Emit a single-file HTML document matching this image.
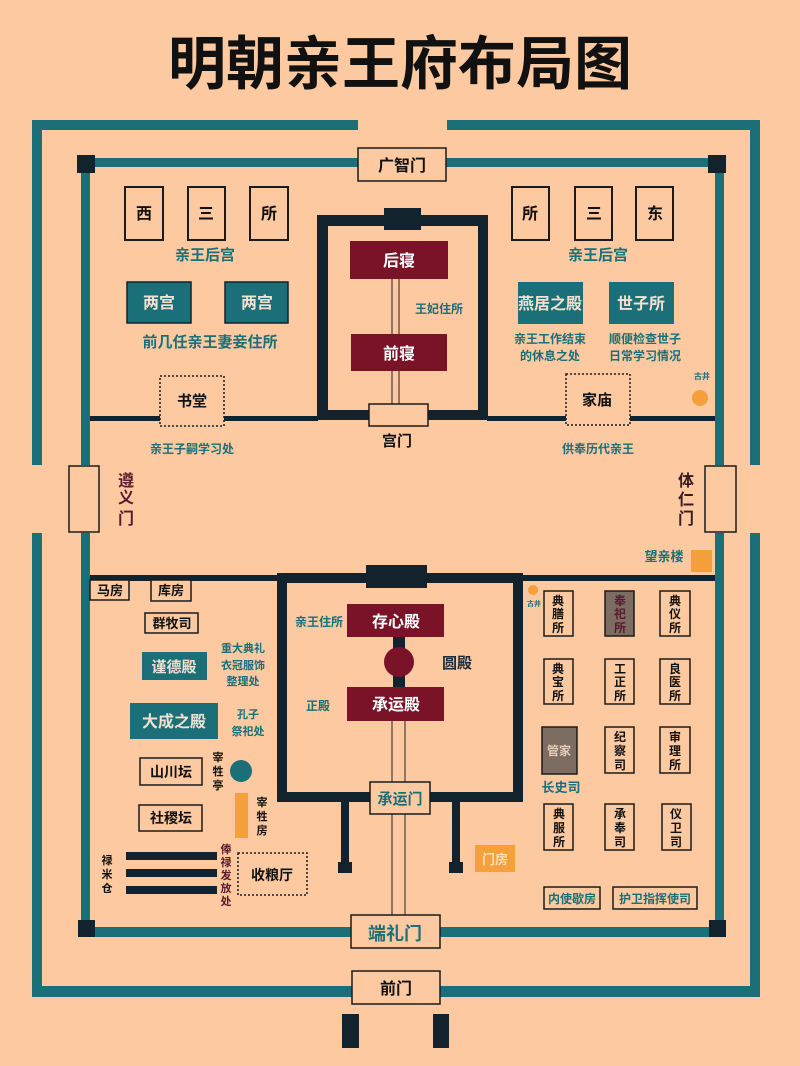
<!DOCTYPE html>
<html><head><meta charset="utf-8"><style>
html,body{margin:0;padding:0;background:#fcc9a0;}
svg{display:block;}
text{font-family:"Liberation Sans","Noto Sans CJK SC","WenQuanYi Zen Hei",sans-serif;font-weight:bold;}
</style></head><body>
<svg width="800" height="1066" viewBox="0 0 800 1066" xmlns="http://www.w3.org/2000/svg">
<rect width="800" height="1066" fill="#fcc9a0"/>
<text x="400" y="84" font-size="58" text-anchor="middle" fill="#111">明朝亲王府布局图</text>

<!-- outer wall -->
<g fill="#1a6f78">
<rect x="32" y="120" width="326" height="10"/>
<rect x="447" y="120" width="313" height="10"/>
<rect x="32" y="120" width="10" height="345"/>
<rect x="32" y="533" width="10" height="464"/>
<rect x="750" y="120" width="10" height="345"/>
<rect x="750" y="533" width="10" height="464"/>
<rect x="32" y="986" width="728" height="11"/>
<!-- inner wall -->
<rect x="86" y="158" width="272" height="9"/>
<rect x="446" y="158" width="268" height="9"/>
<rect x="81" y="158" width="9" height="307"/>
<rect x="81" y="533" width="9" height="404"/>
<rect x="715" y="158" width="9" height="307"/>
<rect x="715" y="533" width="9" height="404"/>
<rect x="81" y="927" width="643" height="10"/>
</g>
<g fill="#13232d">
<rect x="77" y="155" width="18" height="18"/>
<rect x="708" y="155" width="18" height="18"/>
<rect x="78" y="920" width="17" height="17"/>
<rect x="709" y="920" width="17" height="17"/>
</g>

<g fill="#fcc9a0" stroke="#1b1b1b" stroke-width="1.5">
<rect x="358" y="148" width="88" height="33"/>
<rect x="69" y="466" width="30" height="66"/>
<rect x="705" y="466" width="31" height="66"/>
</g>
<text x="402" y="171" font-size="16" text-anchor="middle" fill="#111">广智门</text>
<g font-size="16" fill="#5a1a2e" text-anchor="middle">
<text x="126" y="486">遵</text><text x="126" y="503">义</text><text x="126" y="524">门</text>
</g>
<g font-size="16" fill="#3a1a24" text-anchor="middle">
<text x="686" y="486">体</text><text x="686" y="505">仁</text><text x="686" y="524">门</text>
</g>

<!-- upper compound -->
<g fill="#13232d">
<rect x="90" y="416" width="228" height="5"/>
<rect x="487" y="416" width="228" height="5"/>
<rect x="317" y="215" width="11" height="205"/>
<rect x="478" y="215" width="10" height="205"/>
<rect x="317" y="215" width="171" height="11"/>
<rect x="317" y="410" width="171" height="10"/>
<rect x="384" y="208" width="37" height="22"/>
</g>
<line x1="392" y1="279" x2="392" y2="405" stroke="#6b5a50" stroke-width="1.5"/>
<line x1="399" y1="279" x2="399" y2="405" stroke="#6b5a50" stroke-width="1.5"/>
<rect x="350" y="241" width="98" height="38" fill="#7a1228"/>
<rect x="351" y="334" width="96" height="37" fill="#7a1228"/>
<text x="399" y="266" font-size="16" text-anchor="middle" fill="#fff">后寝</text>
<text x="399" y="359" font-size="16" text-anchor="middle" fill="#fff">前寝</text>
<text x="439" y="313" font-size="12" text-anchor="middle" fill="#1a6f78">王妃住所</text>
<rect x="369" y="404" width="59" height="22" fill="#fcc9a0" stroke="#1b1b1b" stroke-width="1.5"/>
<text x="397" y="446" font-size="15" text-anchor="middle" fill="#111">宫门</text>

<g fill="#fcc9a0" stroke="#1b1b1b" stroke-width="2">
<rect x="125" y="187" width="38" height="53"/><rect x="188" y="187" width="37" height="53"/><rect x="250" y="187" width="38" height="53"/>
<rect x="512" y="187" width="37" height="53"/><rect x="575" y="187" width="37" height="53"/><rect x="636" y="187" width="37" height="53"/>
</g>
<g font-size="16" text-anchor="middle" fill="#111">
<text x="144" y="219">西</text><text x="206" y="219">三</text><text x="269" y="219">所</text>
<text x="530" y="219">所</text><text x="594" y="219">三</text><text x="655" y="219">东</text>
</g>
<g font-size="15" text-anchor="middle" fill="#1a6f78">
<text x="205" y="260">亲王后宫</text><text x="598" y="260">亲王后宫</text>
<text x="210" y="347">前几任亲王妻妾住所</text>
</g>
<g fill="#1a6f78" stroke="#13232d" stroke-width="1.5">
<rect x="127" y="282" width="64" height="41"/><rect x="225" y="282" width="63" height="41"/>
</g>
<rect x="518" y="282" width="65" height="42" fill="#1a6f78"/><rect x="609" y="282" width="65" height="42" fill="#1a6f78"/>
<g font-size="16" text-anchor="middle" fill="#f3e0d0">
<text x="159" y="308">两宫</text><text x="257" y="308">两宫</text>
<text x="550" y="309">燕居之殿</text><text x="641" y="309">世子所</text>
</g>
<g font-size="12" text-anchor="middle" fill="#1a6f78">
<text x="550" y="343">亲王工作结束</text><text x="550" y="360">的休息之处</text>
<text x="645" y="343">顺便检查世子</text><text x="645" y="360">日常学习情况</text>
<text x="192" y="453">亲王子嗣学习处</text><text x="598" y="453">供奉历代亲王</text>
</g>
<text x="702" y="379" font-size="8" text-anchor="middle" fill="#1a6f78">古井</text>
<circle cx="700" cy="398" r="8" fill="#f5a03a"/>

<g fill="#fcc9a0" stroke="#1b1b1b" stroke-width="1.5" stroke-dasharray="2,2">
<rect x="160" y="376" width="64" height="50"/><rect x="566" y="374" width="64" height="51"/>
<rect x="238" y="853" width="69" height="42"/>
</g>
<text x="192" y="406" font-size="15" text-anchor="middle" fill="#111">书堂</text>
<text x="597" y="405" font-size="15" text-anchor="middle" fill="#111">家庙</text>

<!-- lower compound -->
<g fill="#13232d">
<rect x="90" y="575" width="188" height="6"/>
<rect x="523" y="575" width="192" height="6"/>
<rect x="277" y="573" width="10" height="229"/>
<rect x="513" y="573" width="10" height="229"/>
<rect x="277" y="573" width="246" height="10"/>
<rect x="277" y="792" width="246" height="10"/>
<rect x="366" y="565" width="61" height="23"/>
<rect x="341" y="800" width="8" height="65"/><rect x="338" y="862" width="14" height="11"/>
<rect x="452" y="800" width="8" height="65"/><rect x="449" y="862" width="14" height="11"/>
<rect x="393" y="637" width="12" height="50"/>
</g>
<line x1="392" y1="721" x2="392" y2="915" stroke="#6b5a50" stroke-width="1.5"/>
<line x1="405" y1="721" x2="405" y2="915" stroke="#6b5a50" stroke-width="1.5"/>
<rect x="347" y="604" width="97" height="33" fill="#7a1228"/>
<rect x="347" y="687" width="97" height="34" fill="#7a1228"/>
<circle cx="399" cy="662" r="15" fill="#7a1228"/>
<text x="396" y="627" font-size="16" text-anchor="middle" fill="#fff">存心殿</text>
<text x="396" y="710" font-size="16" text-anchor="middle" fill="#fff">承运殿</text>
<text x="319" y="626" font-size="12" text-anchor="middle" fill="#1a6f78">亲王住所</text>
<text x="318" y="710" font-size="12" text-anchor="middle" fill="#1a6f78">正殿</text>
<text x="457" y="668" font-size="15" text-anchor="middle" fill="#1b2a3a">圆殿</text>
<rect x="370" y="782" width="60" height="32" fill="#fcc9a0" stroke="#1b1b1b" stroke-width="1.5"/>
<text x="400" y="804" font-size="15" text-anchor="middle" fill="#1a6f78">承运门</text>
<rect x="475" y="845" width="40" height="27" fill="#f5a03a"/>
<text x="495" y="864" font-size="13" text-anchor="middle" fill="#fbe0c0">门房</text>

<!-- left lower -->
<g fill="#fcc9a0" stroke="#1b1b1b" stroke-width="1.5">
<rect x="90" y="580" width="39" height="20"/><rect x="151" y="580" width="40" height="21"/>
<rect x="145" y="613" width="53" height="20"/>
<rect x="140" y="758" width="62" height="27"/><rect x="139" y="805" width="63" height="26"/>
</g>
<g font-size="13" text-anchor="middle" fill="#111">
<text x="110" y="595">马房</text><text x="171" y="595">库房</text><text x="172" y="628">群牧司</text>
<text x="171" y="777" font-size="14">山川坛</text><text x="171" y="823" font-size="14">社稷坛</text>
<text x="272" y="880" font-size="14">收粮厅</text>
</g>
<rect x="142" y="652" width="65" height="28" fill="#1a6f78"/>
<rect x="130" y="703" width="88" height="36" fill="#1a6f78"/>
<text x="174" y="672" font-size="15" text-anchor="middle" fill="#f3e0d0">谨德殿</text>
<text x="174" y="727" font-size="16" text-anchor="middle" fill="#f3e0d0">大成之殿</text>
<g font-size="11" text-anchor="middle" fill="#1a6f78">
<text x="243" y="652">重大典礼</text><text x="243" y="669">衣冠服饰</text><text x="243" y="685">整理处</text>
<text x="248" y="718">孔子</text><text x="248" y="735">祭祀处</text>
</g>
<g font-size="11" text-anchor="middle" fill="#111">
<text x="218" y="761">宰</text><text x="218" y="775">牲</text><text x="218" y="789">亭</text>
<text x="262" y="806">宰</text><text x="262" y="820">牲</text><text x="262" y="834">房</text>
<text x="107" y="864">禄</text><text x="107" y="878">米</text><text x="107" y="892">仓</text>
</g>
<g font-size="11" text-anchor="middle" fill="#5a1a2e">
<text x="226" y="853">俸</text><text x="226" y="866">禄</text><text x="226" y="879">发</text><text x="226" y="892">放</text><text x="226" y="905">处</text>
</g>
<circle cx="241" cy="771" r="11" fill="#1a6f78"/>
<rect x="235" y="793" width="13" height="45" fill="#f5a03a"/>
<g fill="#13232d">
<rect x="126" y="852" width="91" height="8"/><rect x="126" y="869" width="91" height="8"/><rect x="126" y="886" width="91" height="8"/>
</g>

<!-- right lower -->
<text x="664" y="561" font-size="13" text-anchor="middle" fill="#1a6f78">望亲楼</text>
<rect x="691" y="550" width="21" height="22" fill="#f5a03a"/>
<circle cx="533" cy="590" r="5" fill="#f5a03a"/>
<text x="534" y="606" font-size="7" text-anchor="middle" fill="#1a6f78">古井</text>
<g fill="#fcc9a0" stroke="#1b1b1b" stroke-width="1.5">
<rect x="544" y="591" width="29" height="45"/><rect x="660" y="591" width="30" height="45"/>
<rect x="544" y="659" width="29" height="45"/><rect x="605" y="659" width="29" height="45"/><rect x="660" y="659" width="30" height="45"/>
<rect x="605" y="727" width="29" height="46"/><rect x="660" y="727" width="30" height="46"/>
<rect x="544" y="804" width="29" height="46"/><rect x="605" y="804" width="29" height="46"/><rect x="662" y="804" width="29" height="46"/>
<rect x="544" y="887" width="56" height="22"/><rect x="613" y="887" width="84" height="22"/>
</g>
<rect x="605" y="591" width="29" height="45" fill="#7c6c62" stroke="#1b1b1b" stroke-width="1.5"/>
<rect x="542" y="727" width="35" height="47" fill="#7c6c62" stroke="#1b1b1b" stroke-width="1.5"/>
<g font-size="12" text-anchor="middle" fill="#111">
<text x="558" y="605">典</text><text x="558" y="618">膳</text><text x="558" y="632">所</text>
<text x="675" y="605">典</text><text x="675" y="618">仪</text><text x="675" y="632">所</text>
<text x="558" y="673">典</text><text x="558" y="686">宝</text><text x="558" y="700">所</text>
<text x="620" y="673">工</text><text x="620" y="686">正</text><text x="620" y="700">所</text>
<text x="675" y="673">良</text><text x="675" y="686">医</text><text x="675" y="700">所</text>
<text x="620" y="741">纪</text><text x="620" y="755">察</text><text x="620" y="769">司</text>
<text x="675" y="741">审</text><text x="675" y="755">理</text><text x="675" y="769">所</text>
<text x="559" y="818">典</text><text x="559" y="832">服</text><text x="559" y="846">所</text>
<text x="620" y="818">承</text><text x="620" y="832">奉</text><text x="620" y="846">司</text>
<text x="676" y="818">仪</text><text x="676" y="832">卫</text><text x="676" y="846">司</text>
</g>
<g font-size="12" text-anchor="middle" fill="#5a1a2e">
<text x="620" y="605">奉</text><text x="620" y="618">祀</text><text x="620" y="632">所</text>
</g>
<text x="559" y="755" font-size="12" text-anchor="middle" fill="#e8cdb8">管家</text>
<text x="561" y="792" font-size="13" text-anchor="middle" fill="#1a6f78">长史司</text>
<text x="572" y="903" font-size="12" text-anchor="middle" fill="#1a6f78">内使歇房</text>
<text x="655" y="903" font-size="12" text-anchor="middle" fill="#1a6f78">护卫指挥使司</text>

<!-- bottom gates -->
<rect x="351" y="915" width="89" height="33" fill="#fcc9a0" stroke="#1b1b1b" stroke-width="1.5"/>
<text x="395" y="940" font-size="18" text-anchor="middle" fill="#1a6f78">端礼门</text>
<rect x="352" y="971" width="88" height="33" fill="#fcc9a0" stroke="#1b1b1b" stroke-width="1.5"/>
<text x="396" y="994" font-size="16" text-anchor="middle" fill="#111">前门</text>
<rect x="342" y="1014" width="17" height="34" fill="#13232d"/>
<rect x="433" y="1014" width="16" height="34" fill="#13232d"/>
</svg>
</body></html>
